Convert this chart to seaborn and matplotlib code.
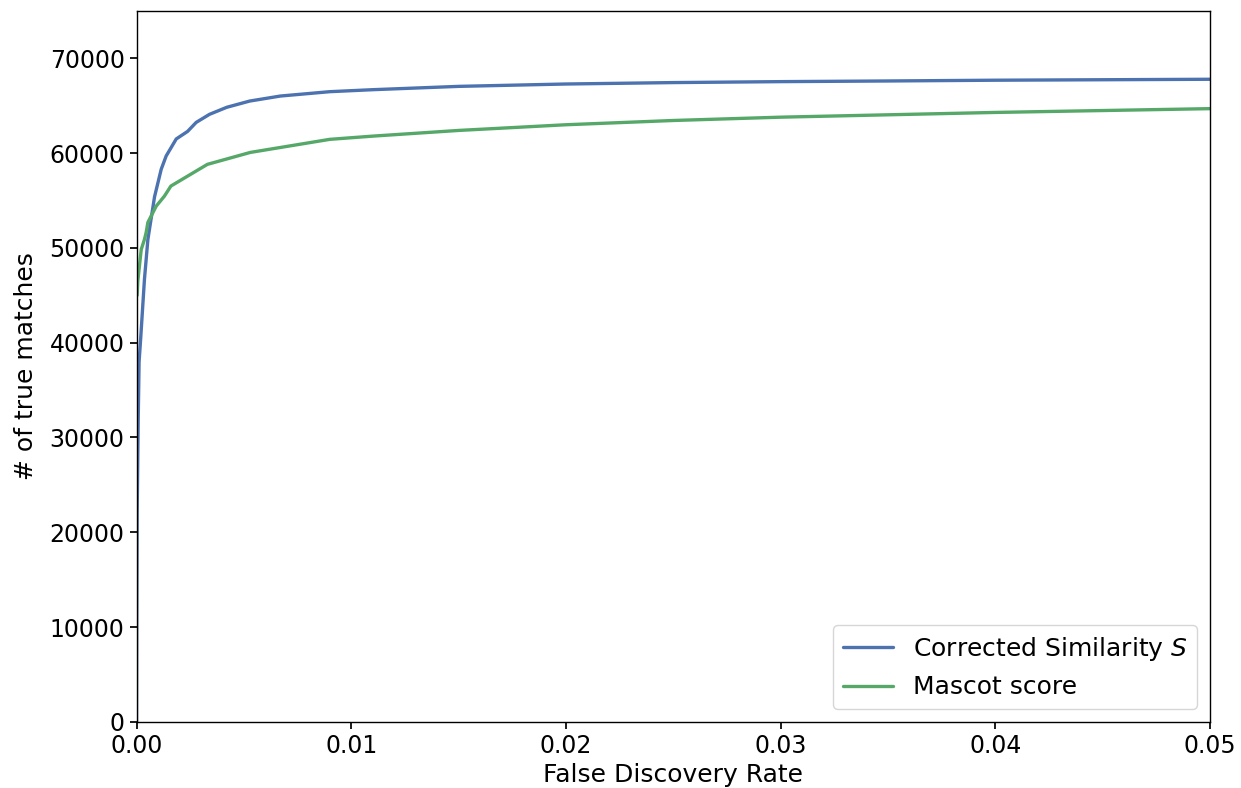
import matplotlib
matplotlib.use("Agg")
import matplotlib.pyplot as plt
import seaborn as sns
import pandas as pd

# Data
fdr_s = [0.0, 0.00001, 0.00003, 0.00008, 0.00012, 0.00019, 0.00037, 0.00053, 0.00084,
         0.00115, 0.00138, 0.00185, 0.00238, 0.00278, 0.0034, 0.0042, 0.00527, 0.0067,
         0.009, 0.011, 0.015, 0.02, 0.025, 0.03, 0.035, 0.04, 0.045, 0.05]
tm_s = [0, 10000, 22000, 32000, 38000, 40300, 46700, 50900, 55400,
        58300, 59700, 61500, 62300, 63250, 64100, 64840, 65500, 66030,
        66490, 66700, 67050, 67300, 67450, 67550, 67620, 67700, 67750, 67800]

fdr_m = [0.00003, 0.00006, 0.00022, 0.00037, 0.00045, 0.00053, 0.00092, 0.0013, 0.0016,
         0.0033, 0.0053, 0.009, 0.011, 0.015, 0.02, 0.025, 0.03, 0.035, 0.04, 0.045, 0.05]
tm_m = [45000, 46500, 49840, 50900, 51640, 52700, 54420, 55470, 56530,
        58820, 60080, 61460, 61800, 62400, 63000, 63450, 63800, 64050, 64300, 64500, 64700]

labels = ["Corrected Similarity $S$", "Mascot score"]

df = pd.concat([
    pd.DataFrame({"fdr": fdr_s, "tm": tm_s, "method": labels[0]}),
    pd.DataFrame({"fdr": fdr_m, "tm": tm_m, "method": labels[1]}),
])

sns.set_theme(style="ticks", rc={"text.color": "black", "axes.labelcolor": "black",
                                 "xtick.color": "black", "ytick.color": "black"})
plt.rcParams['font.family'] = ['DejaVu Sans']
deep = sns.color_palette("deep")
pal = {labels[0]: deep[0], labels[1]: deep[2]}

fig = plt.figure(figsize=(12.41, 7.88), dpi=100)
ax = fig.add_axes([0.110, 0.084, 0.865, 0.902])
sns.lineplot(data=df, x="fdr", y="tm", hue="method", palette=pal, ax=ax, linewidth=2.4,
             sort=False, estimator=None)

ax.set_xlim(0, 0.05)
ax.set_ylim(0, 75000)
ax.set_xticks([0.0, 0.01, 0.02, 0.03, 0.04, 0.05])
ax.set_xticklabels(["0.00", "0.01", "0.02", "0.03", "0.04", "0.05"])
ax.set_yticks(range(0, 70001, 10000))
ax.tick_params(labelsize=17, length=5, color="black", labelcolor="black")
ax.set_xlabel("False Discovery Rate", fontsize=18, labelpad=4, color="black")
ax.set_ylabel("# of true matches", fontsize=18, labelpad=8, color="black")
for s in ax.spines.values():
    s.set_visible(True)
    s.set_color("black")
    s.set_linewidth(1.0)
leg = ax.legend(loc="lower right", fontsize=18, title=None, frameon=True)
for t in leg.get_texts():
    t.set_color("black")
fig.savefig("out.png", dpi=100)
